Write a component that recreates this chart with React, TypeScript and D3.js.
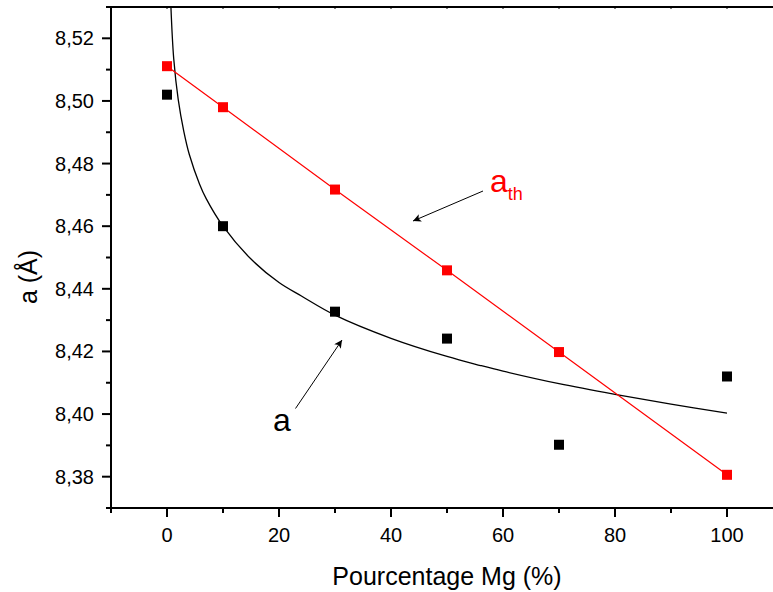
import React from "react";
import * as d3 from "d3";

const pct = [0, 10, 30, 50, 70, 100];
const aMeasured = [8.502, 8.46, 8.4327, 8.4241, 8.3902, 8.412];
const aTheory = [8.5111, 8.498, 8.4717, 8.4459, 8.4198, 8.3806];

// fitted curve
const fitX = [0.7, 1.2, 2, 3, 4, 5.8, 7, 10, 15, 20, 24, 30, 40, 50, 56, 60, 70, 80, 90, 100];
const fitY = [8.53, 8.5135, 8.5005, 8.4903, 8.4828, 8.4735, 8.4688, 8.46, 8.4495, 8.442, 8.4377, 8.4316, 8.4242, 8.4184, 8.4155, 8.4137, 8.4097, 8.4063, 8.4032, 8.4003];

const xMajor = [0, 20, 40, 60, 80, 100];
const xMinor = [-10, 10, 30, 50, 70, 90, 110];
const yMajor = [8.38, 8.4, 8.42, 8.44, 8.46, 8.48, 8.5, 8.52];
const yMinor = [8.37, 8.39, 8.41, 8.43, 8.45, 8.47, 8.49, 8.51, 8.53];

const FONT = "'Liberation Sans', Arial, Helvetica, sans-serif";

export default function App() {
  const x = d3.scaleLinear().domain([-10, 110]).range([111, 783]);
  const y = d3.scaleLinear().domain([8.37, 8.53]).range([508, 7]);
  const [x0, x1] = x.range();
  const [yb, yt] = y.range();

  const redLine = d3
    .line<number>()
    .x((_, i) => x(pct[i]))
    .y((d) => y(d))(aTheory) as string;

  const fitLine = d3
    .line<number>()
    .x((_, i) => x(fitX[i]))
    .y((d) => y(d))
    .curve(d3.curveCatmullRom.alpha(0.5))(fitY) as string;

  const fmt = (v: number) => v.toFixed(2).replace(".", ",");
  const sq = 10;

  return (
    <svg
      width={773}
      height={592}
      style={{ position: "absolute", left: 0, top: 0, background: "#fff" }}
      fontFamily={FONT}
    >
      <defs>
        <clipPath id="plot">
          <rect x={x0} y={yt} width={x1 - x0} height={yb - yt} />
        </clipPath>
        <marker
          id="arrow"
          viewBox="0 0 10 10"
          refX={10}
          refY={5}
          markerWidth={13}
          markerHeight={8}
          markerUnits="userSpaceOnUse"
          orient="auto"
        >
          <path d="M0,0 L10,5 L0,10 L2.5,5 Z" fill="#000" />
        </marker>
      </defs>

      {/* curves */}
      <g clipPath="url(#plot)">
        <path d={fitLine} fill="none" stroke="#000" strokeWidth={1.3} />
        <path d={redLine} fill="none" stroke="#ff0000" strokeWidth={1.2} />
      </g>

      {/* markers */}
      {aMeasured.map((v, i) => (
        <rect key={"b" + i} x={x(pct[i]) - sq / 2} y={y(v) - sq / 2} width={sq} height={sq} fill="#000" />
      ))}
      {aTheory.map((v, i) => (
        <rect key={"r" + i} x={x(pct[i]) - sq / 2} y={y(v) - sq / 2} width={sq} height={sq} fill="#ff0000" />
      ))}

      {/* axes */}
      <g stroke="#000" strokeWidth={2} fill="none">
        <line x1={x0 - 4} x2={x1} y1={yb} y2={yb} />
        <line x1={x0} x2={x0} y1={yt - 1} y2={yb + 1} />
        <line x1={x0} x2={x1} y1={yt} y2={yt} />
      </g>
      <g stroke="#000" strokeWidth={2}>
        {xMajor.map((t) => (
          <line key={"xM" + t} x1={x(t)} x2={x(t)} y1={yb} y2={yb + 9} />
        ))}
        {xMinor.map((t) => (
          <line key={"xm" + t} x1={x(t)} x2={x(t)} y1={yb} y2={yb + 5} />
        ))}
        {yMajor.map((t) => (
          <line key={"yM" + t} x1={x0 - 9} x2={x0} y1={y(t)} y2={y(t)} />
        ))}
        {yMinor.map((t) => (
          <line key={"ym" + t} x1={x0 - 5} x2={x0} y1={y(t)} y2={y(t)} />
        ))}
      </g>
      <g stroke="#000" strokeWidth={1}>
        {[...xMajor, ...xMinor].map((t) => (
          <line key={"xt" + t} x1={x(t)} x2={x(t)} y1={yt} y2={yt + 2} />
        ))}
      </g>

      {/* tick labels */}
      <g fontSize={20} fill="#000">
        {xMajor.map((t) => (
          <text key={"xl" + t} x={x(t)} y={yb + 34} textAnchor="middle">
            {t}
          </text>
        ))}
        {yMajor.map((t) => (
          <text key={"yl" + t} x={x0 - 17} y={y(t)} dy="0.35em" textAnchor="end">
            {fmt(t)}
          </text>
        ))}
      </g>

      {/* axis titles */}
      <text x={(x0 + x1) / 2} y={585} fontSize={25} textAnchor="middle" fill="#000">
        Pourcentage Mg (%)
      </text>
      <text transform="translate(37,277) rotate(-90)" fontSize={25} textAnchor="middle" fill="#000">
        a (Å)
      </text>

      {/* annotations */}
      <line x1={483} y1={191} x2={413} y2={221} stroke="#000" strokeWidth={1} markerEnd="url(#arrow)" />
      <line x1={295.5} y1={408.5} x2={342} y2={340} stroke="#000" strokeWidth={1} markerEnd="url(#arrow)" />
      <text x={490} y={192} fontSize={32} fill="#ff0000">
        a
        <tspan fontSize={18} dy={8}>
          th
        </tspan>
      </text>
      <text x={273} y={431} fontSize={32} fill="#000">
        a
      </text>
    </svg>
  );
}
